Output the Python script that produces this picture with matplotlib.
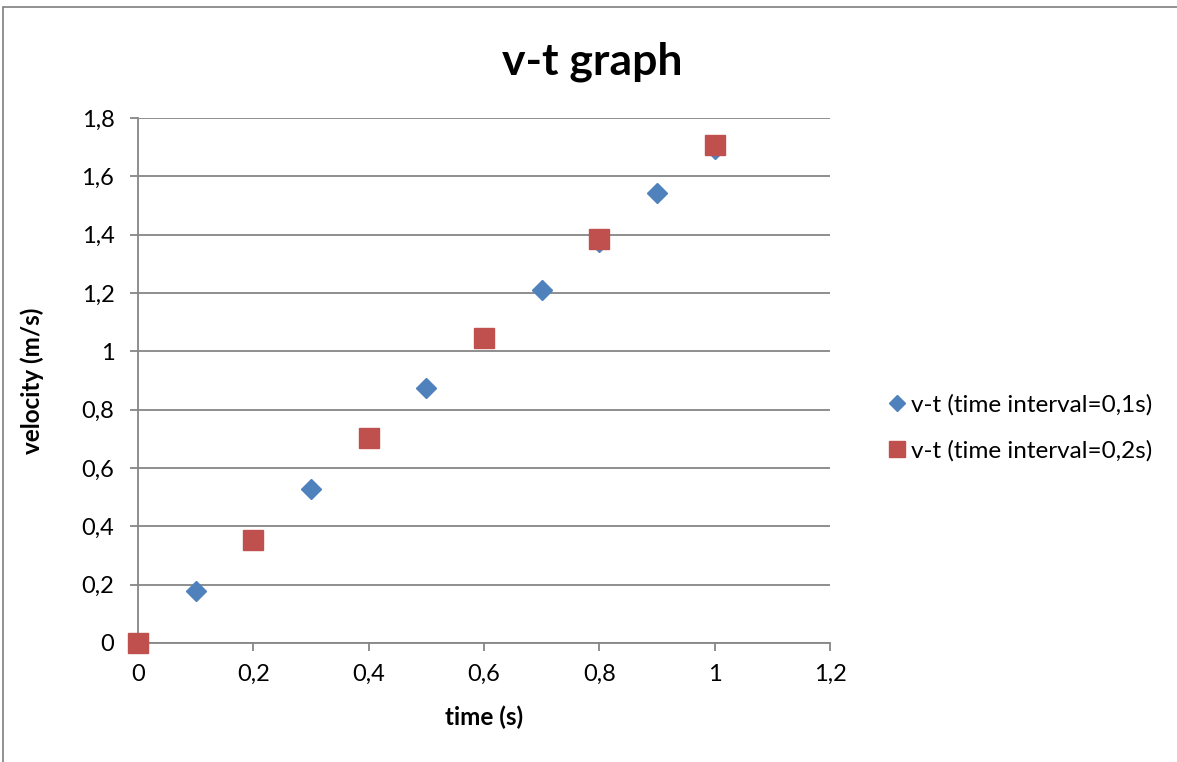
import matplotlib.pyplot as plt
from matplotlib.ticker import FuncFormatter
from matplotlib.patches import Rectangle

plt.rcParams['font.family'] = ['Lato', 'DejaVu Sans']

# data
t1 = [0, 0.1, 0.2, 0.3, 0.4, 0.5, 0.6, 0.7, 0.8, 0.9, 1.0]
v1 = [0, 0.178, 0.353, 0.528, 0.703, 0.874, 1.046, 1.211, 1.376, 1.543, 1.695]
t2 = [0, 0.2, 0.4, 0.6, 0.8, 1.0]
v2 = [0, 0.353, 0.703, 1.046, 1.384, 1.708]

xticks = [0, 0.2, 0.4, 0.6, 0.8, 1.0, 1.2]
yticks = [0, 0.2, 0.4, 0.6, 0.8, 1.0, 1.2, 1.4, 1.6, 1.8]

blue = '#4F81BD'
red = '#C0504D'
grey = '#868686'

fig = plt.figure(figsize=(11.77, 7.62), dpi=100)
ax = fig.add_axes([0.1172, 0.1562, 0.588, 0.6889])

# outer chart border
fig.patches.append(Rectangle((3 / 1177, -0.01), 1.2, 1 - 7 / 762 + 0.01,
                             transform=fig.transFigure, fill=False,
                             edgecolor='#7f7f7f', linewidth=1.2))

ax.plot(t1, v1, linestyle='none', marker='D', markersize=10, color=blue,
        label='v-t (time interval=0,1s)', clip_on=False, zorder=3)
ax.plot(t2, v2, linestyle='none', marker='s', markersize=14, color=red,
        label='v-t (time interval=0,2s)', clip_on=False, zorder=4)

ax.set_xlim(0, 1.2)
ax.set_ylim(0, 1.8)
ax.set_xticks(xticks)
ax.set_yticks(yticks)

fmt = FuncFormatter(lambda v, p: ('%g' % round(v, 2)).replace('.', ','))
ax.xaxis.set_major_formatter(fmt)
ax.yaxis.set_major_formatter(fmt)

ax.grid(axis='y', color=grey, linewidth=1.3)
ax.set_axisbelow(True)
for s in ['top', 'right']:
    ax.spines[s].set_visible(False)
for s in ['left', 'bottom']:
    ax.spines[s].set_color(grey)
    ax.spines[s].set_linewidth(1.3)
ax.tick_params(axis='both', colors=grey, labelcolor='black', labelsize=17,
               length=6, width=1.3, direction='out')
ax.tick_params(axis='x', pad=9)
ax.tick_params(axis='y', pad=11)

fig.text(0.503, 1 - 62 / 762, 'v-t graph', fontsize=32, fontweight='bold',
         ha='center', va='center')
ax.set_xlabel('time (s)', fontsize=17.5, fontweight='bold', labelpad=15)
ax.set_ylabel('velocity (m/s)', fontsize=17.5, fontweight='bold', labelpad=27)

leg = ax.legend(loc='center left', bbox_to_anchor=(1.065, 0.41), frameon=False,
                fontsize=17.5, handletextpad=0.1, handlelength=1.0,
                labelspacing=1.0, borderaxespad=0, markerscale=0.85)

plt.savefig('out.png', dpi=100)
